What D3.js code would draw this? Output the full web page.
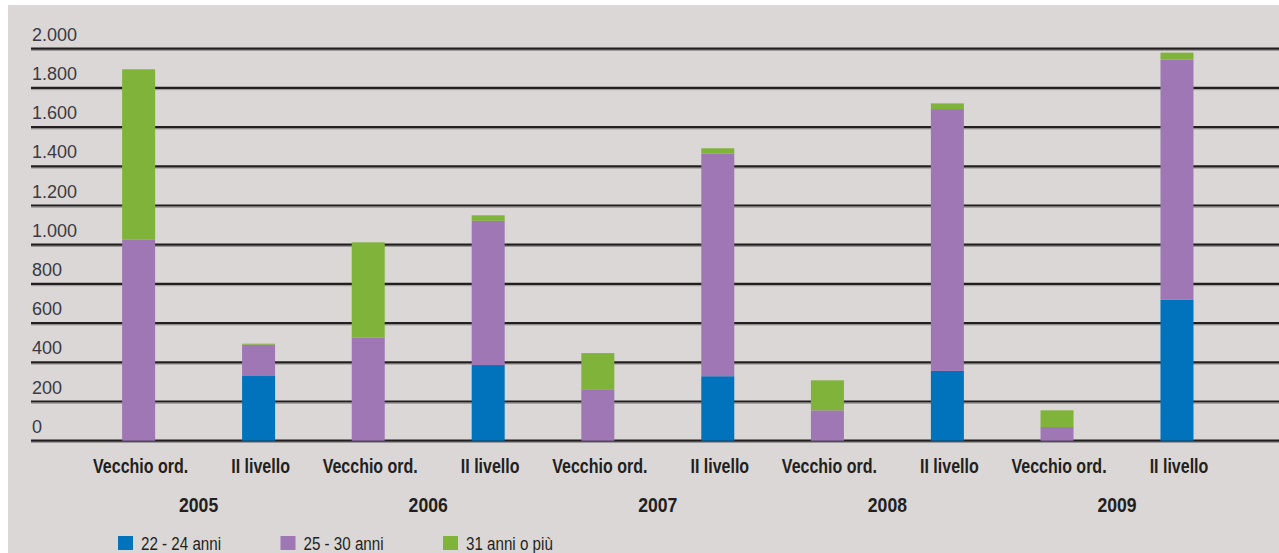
<!DOCTYPE html>
<html lang="it">
<head>
<meta charset="UTF-8">
<title>Laureati per tipo di corso e classe di età</title>
<script src="https://d3js.org/d3.v7.min.js"></script>
<style>
  body { margin: 0; background: #fff; }
  svg { display: block; }
  .ylab { font-family: "Liberation Sans", Arial, sans-serif; font-size: 18px; fill: #3b3a44; }
  .cond { font-family: "Liberation Sans", Arial, sans-serif; fill: #231f20; }
</style>
</head>
<body>
<svg id="chart" width="1279" height="553"></svg>
<script>
// data
const years = ["2005", "2006", "2007", "2008", "2009"];
const types = ["Vecchio ord.", "II livello"];
const ageGroups = ["22 - 24 anni", "25 - 30 anni", "31 anni o più"];
// one value per bar, in order year -> type
const age22_24 = [0, 330, 0, 386, 0, 329, 0, 356, 0, 719];
const age25_30 = [1025, 160, 525, 736, 259, 1135, 155, 1336, 70, 1225];
const age31plus = [870, 5, 487, 28, 188, 28, 153, 29, 85, 36];
const yTicks = [0, 200, 400, 600, 800, 1000, 1200, 1400, 1600, 1800, 2000];
const colors = ["#0073bc", "#9e77b4", "#80b33a"];

const rows = [];
years.forEach((yr, i) => types.forEach((t, j) => {
  const k = i * types.length + j;
  rows.push({ year: yr, type: t, "22 - 24 anni": age22_24[k], "25 - 30 anni": age25_30[k], "31 anni o più": age31plus[k] });
}));

const svg = d3.select("#chart");
const W = 1279, H = 553;
const narrow = 0.8; // condensed look of the original type

svg.append("rect").attr("x", 8).attr("y", 5).attr("width", W - 8).attr("height", H - 5).attr("fill", "#dad7d6");

const y = d3.scaleLinear().domain([0, 2000]).range([440.7, 48.7]);
const xYear = d3.scaleBand().domain(years).range([83.8, 1231.8]);
const xType = d3.scalePoint().domain(types).range([0, xYear.bandwidth()]).padding(0.457);
const barW = 33;

// gridlines with their light shadow
const grid = svg.append("g");
grid.selectAll("line.sh").data(yTicks).join("line").attr("class", "sh")
  .attr("x1", 31).attr("x2", W).attr("y1", d => y(d) + 1.8).attr("y2", d => y(d) + 1.8)
  .attr("stroke", "#9a9898").attr("stroke-width", 1);
grid.selectAll("line.g").data(yTicks).join("line").attr("class", "g")
  .attr("x1", 31).attr("x2", W).attr("y1", d => y(d)).attr("y2", d => y(d))
  .attr("stroke", "#231f20").attr("stroke-width", 2.2);

grid.selectAll("text").data(yTicks).join("text").attr("class", "ylab")
  .attr("x", 32).attr("y", d => y(d) - 8)
  .text(d => d3.format(",")(d).replace(/,/g, "."));

// stacked bars
const series = d3.stack().keys(ageGroups)(rows);
const cx = d => xYear(d.data.year) + xType(d.data.type);
svg.append("g").selectAll("g").data(series).join("g")
  .attr("fill", (d, i) => colors[i])
  .selectAll("rect").data(d => d).join("rect")
  .attr("x", d => cx(d) - barW / 2)
  .attr("width", barW)
  .attr("y", d => y(d[1]))
  .attr("height", d => y(d[0]) - y(d[1]));

// category labels
svg.append("g").selectAll("text").data(rows).join("text").attr("class", "cond")
  .attr("transform", d => `translate(${xYear(d.year) + xType(d.type) + 2},472.7) scale(${narrow},1)`)
  .attr("text-anchor", "middle")
  .style("font-weight", "bold").style("font-size", "20px")
  .text(d => d.type);

svg.append("g").selectAll("text").data(years).join("text").attr("class", "cond")
  .attr("transform", d => `translate(${xYear(d) + xYear.bandwidth() / 2},512.3) scale(0.86,1)`)
  .attr("text-anchor", "middle")
  .style("font-weight", "bold").style("font-size", "20.5px")
  .text(d => d);

// legend
const legX = d3.scalePoint().domain(ageGroups).range([118, 443]);
const leg = svg.append("g").selectAll("g").data(ageGroups).join("g")
  .attr("transform", d => `translate(${legX(d)},536)`);
leg.append("rect").attr("width", 15).attr("height", 14).attr("fill", (d, i) => colors[i]);
leg.append("text").attr("class", "cond")
  .attr("transform", `translate(23,14) scale(0.82,1)`)
  .style("font-size", "18.5px").text(d => d);
</script>
</body>
</html>
